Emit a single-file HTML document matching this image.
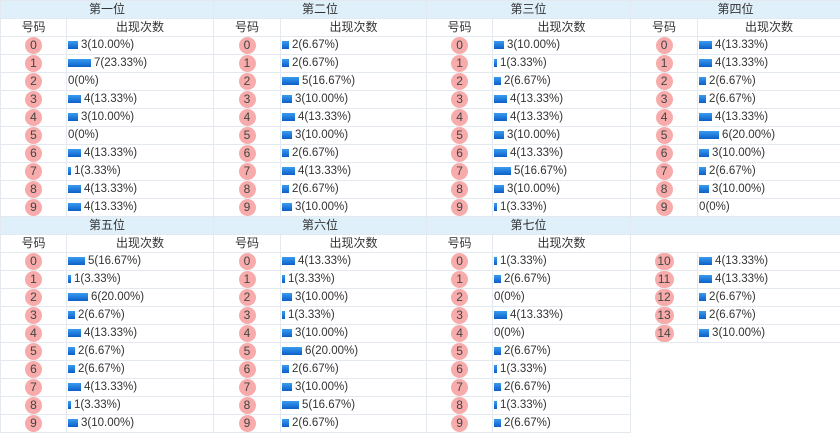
<!DOCTYPE html><html><head><meta charset="utf-8"><style>
body{margin:0;width:840px;height:445px;background:#fff;font-family:"Liberation Sans","Noto Sans CJK SC",sans-serif;font-size:12px;color:#333;overflow:hidden}
table{border-collapse:collapse;table-layout:fixed;width:840px}
td{height:17.9px;padding:0;border:1px solid #e3e9ef;box-sizing:border-box;white-space:nowrap;line-height:16px}
tr.h td{background:#dff0fb;text-align:center}
tr.s td{text-align:center}
td.n{text-align:center}
.c{display:inline-block;width:17px;height:17px;border-radius:9px;background:#f8abab;text-align:center;line-height:17px;font-size:12px;color:#444}
.c2{width:19px}
td.v{padding-left:1px;font-size:11.5px}
.b{display:inline-block;height:8px;background:linear-gradient(#3a9bf0,#0b5fc8);margin-right:3px;vertical-align:-1px}
</style></head><body>
<table>
<colgroup><col style="width:66px"><col style="width:147px"><col style="width:67px"><col style="width:146px"><col style="width:66px"><col style="width:138px"><col style="width:67px"><col style="width:143px"></colgroup>
<tr class="h"><td colspan="2">第一位</td><td colspan="2">第二位</td><td colspan="2">第三位</td><td colspan="2">第四位</td></tr>
<tr class="s"><td>号码</td><td>出现次数</td><td>号码</td><td>出现次数</td><td>号码</td><td>出现次数</td><td>号码</td><td>出现次数</td></tr>
<tr><td class="n"><span class="c">0</span></td><td class="v"><span class="b" style="width:10px"></span>3(10.00%)</td><td class="n"><span class="c">0</span></td><td class="v"><span class="b" style="width:7px"></span>2(6.67%)</td><td class="n"><span class="c">0</span></td><td class="v"><span class="b" style="width:10px"></span>3(10.00%)</td><td class="n"><span class="c">0</span></td><td class="v"><span class="b" style="width:13px"></span>4(13.33%)</td></tr>
<tr><td class="n"><span class="c">1</span></td><td class="v"><span class="b" style="width:23px"></span>7(23.33%)</td><td class="n"><span class="c">1</span></td><td class="v"><span class="b" style="width:7px"></span>2(6.67%)</td><td class="n"><span class="c">1</span></td><td class="v"><span class="b" style="width:3px"></span>1(3.33%)</td><td class="n"><span class="c">1</span></td><td class="v"><span class="b" style="width:13px"></span>4(13.33%)</td></tr>
<tr><td class="n"><span class="c">2</span></td><td class="v">0(0%)</td><td class="n"><span class="c">2</span></td><td class="v"><span class="b" style="width:17px"></span>5(16.67%)</td><td class="n"><span class="c">2</span></td><td class="v"><span class="b" style="width:7px"></span>2(6.67%)</td><td class="n"><span class="c">2</span></td><td class="v"><span class="b" style="width:7px"></span>2(6.67%)</td></tr>
<tr><td class="n"><span class="c">3</span></td><td class="v"><span class="b" style="width:13px"></span>4(13.33%)</td><td class="n"><span class="c">3</span></td><td class="v"><span class="b" style="width:10px"></span>3(10.00%)</td><td class="n"><span class="c">3</span></td><td class="v"><span class="b" style="width:13px"></span>4(13.33%)</td><td class="n"><span class="c">3</span></td><td class="v"><span class="b" style="width:7px"></span>2(6.67%)</td></tr>
<tr><td class="n"><span class="c">4</span></td><td class="v"><span class="b" style="width:10px"></span>3(10.00%)</td><td class="n"><span class="c">4</span></td><td class="v"><span class="b" style="width:13px"></span>4(13.33%)</td><td class="n"><span class="c">4</span></td><td class="v"><span class="b" style="width:13px"></span>4(13.33%)</td><td class="n"><span class="c">4</span></td><td class="v"><span class="b" style="width:13px"></span>4(13.33%)</td></tr>
<tr><td class="n"><span class="c">5</span></td><td class="v">0(0%)</td><td class="n"><span class="c">5</span></td><td class="v"><span class="b" style="width:10px"></span>3(10.00%)</td><td class="n"><span class="c">5</span></td><td class="v"><span class="b" style="width:10px"></span>3(10.00%)</td><td class="n"><span class="c">5</span></td><td class="v"><span class="b" style="width:20px"></span>6(20.00%)</td></tr>
<tr><td class="n"><span class="c">6</span></td><td class="v"><span class="b" style="width:13px"></span>4(13.33%)</td><td class="n"><span class="c">6</span></td><td class="v"><span class="b" style="width:7px"></span>2(6.67%)</td><td class="n"><span class="c">6</span></td><td class="v"><span class="b" style="width:13px"></span>4(13.33%)</td><td class="n"><span class="c">6</span></td><td class="v"><span class="b" style="width:10px"></span>3(10.00%)</td></tr>
<tr><td class="n"><span class="c">7</span></td><td class="v"><span class="b" style="width:3px"></span>1(3.33%)</td><td class="n"><span class="c">7</span></td><td class="v"><span class="b" style="width:13px"></span>4(13.33%)</td><td class="n"><span class="c">7</span></td><td class="v"><span class="b" style="width:17px"></span>5(16.67%)</td><td class="n"><span class="c">7</span></td><td class="v"><span class="b" style="width:7px"></span>2(6.67%)</td></tr>
<tr><td class="n"><span class="c">8</span></td><td class="v"><span class="b" style="width:13px"></span>4(13.33%)</td><td class="n"><span class="c">8</span></td><td class="v"><span class="b" style="width:7px"></span>2(6.67%)</td><td class="n"><span class="c">8</span></td><td class="v"><span class="b" style="width:10px"></span>3(10.00%)</td><td class="n"><span class="c">8</span></td><td class="v"><span class="b" style="width:10px"></span>3(10.00%)</td></tr>
<tr><td class="n"><span class="c">9</span></td><td class="v"><span class="b" style="width:13px"></span>4(13.33%)</td><td class="n"><span class="c">9</span></td><td class="v"><span class="b" style="width:10px"></span>3(10.00%)</td><td class="n"><span class="c">9</span></td><td class="v"><span class="b" style="width:3px"></span>1(3.33%)</td><td class="n"><span class="c">9</span></td><td class="v">0(0%)</td></tr>
<tr class="h"><td colspan="2">第五位</td><td colspan="2">第六位</td><td colspan="2">第七位</td><td colspan="2"></td></tr>
<tr class="s"><td>号码</td><td>出现次数</td><td>号码</td><td>出现次数</td><td>号码</td><td>出现次数</td><td style="border-right:none"></td><td style="border-left:none"></td></tr>
<tr><td class="n"><span class="c">0</span></td><td class="v"><span class="b" style="width:17px"></span>5(16.67%)</td><td class="n"><span class="c">0</span></td><td class="v"><span class="b" style="width:13px"></span>4(13.33%)</td><td class="n"><span class="c">0</span></td><td class="v"><span class="b" style="width:3px"></span>1(3.33%)</td><td class="n"><span class="c c2">10</span></td><td class="v"><span class="b" style="width:13px"></span>4(13.33%)</td></tr>
<tr><td class="n"><span class="c">1</span></td><td class="v"><span class="b" style="width:3px"></span>1(3.33%)</td><td class="n"><span class="c">1</span></td><td class="v"><span class="b" style="width:3px"></span>1(3.33%)</td><td class="n"><span class="c">1</span></td><td class="v"><span class="b" style="width:7px"></span>2(6.67%)</td><td class="n"><span class="c c2">11</span></td><td class="v"><span class="b" style="width:13px"></span>4(13.33%)</td></tr>
<tr><td class="n"><span class="c">2</span></td><td class="v"><span class="b" style="width:20px"></span>6(20.00%)</td><td class="n"><span class="c">2</span></td><td class="v"><span class="b" style="width:10px"></span>3(10.00%)</td><td class="n"><span class="c">2</span></td><td class="v">0(0%)</td><td class="n"><span class="c c2">12</span></td><td class="v"><span class="b" style="width:7px"></span>2(6.67%)</td></tr>
<tr><td class="n"><span class="c">3</span></td><td class="v"><span class="b" style="width:7px"></span>2(6.67%)</td><td class="n"><span class="c">3</span></td><td class="v"><span class="b" style="width:3px"></span>1(3.33%)</td><td class="n"><span class="c">3</span></td><td class="v"><span class="b" style="width:13px"></span>4(13.33%)</td><td class="n"><span class="c c2">13</span></td><td class="v"><span class="b" style="width:7px"></span>2(6.67%)</td></tr>
<tr><td class="n"><span class="c">4</span></td><td class="v"><span class="b" style="width:13px"></span>4(13.33%)</td><td class="n"><span class="c">4</span></td><td class="v"><span class="b" style="width:10px"></span>3(10.00%)</td><td class="n"><span class="c">4</span></td><td class="v">0(0%)</td><td class="n"><span class="c c2">14</span></td><td class="v"><span class="b" style="width:10px"></span>3(10.00%)</td></tr>
<tr><td class="n"><span class="c">5</span></td><td class="v"><span class="b" style="width:7px"></span>2(6.67%)</td><td class="n"><span class="c">5</span></td><td class="v"><span class="b" style="width:20px"></span>6(20.00%)</td><td class="n"><span class="c">5</span></td><td class="v"><span class="b" style="width:7px"></span>2(6.67%)</td><td style="border:none"></td><td style="border:none"></td></tr>
<tr><td class="n"><span class="c">6</span></td><td class="v"><span class="b" style="width:7px"></span>2(6.67%)</td><td class="n"><span class="c">6</span></td><td class="v"><span class="b" style="width:7px"></span>2(6.67%)</td><td class="n"><span class="c">6</span></td><td class="v"><span class="b" style="width:3px"></span>1(3.33%)</td><td style="border:none"></td><td style="border:none"></td></tr>
<tr><td class="n"><span class="c">7</span></td><td class="v"><span class="b" style="width:13px"></span>4(13.33%)</td><td class="n"><span class="c">7</span></td><td class="v"><span class="b" style="width:10px"></span>3(10.00%)</td><td class="n"><span class="c">7</span></td><td class="v"><span class="b" style="width:7px"></span>2(6.67%)</td><td style="border:none"></td><td style="border:none"></td></tr>
<tr><td class="n"><span class="c">8</span></td><td class="v"><span class="b" style="width:3px"></span>1(3.33%)</td><td class="n"><span class="c">8</span></td><td class="v"><span class="b" style="width:17px"></span>5(16.67%)</td><td class="n"><span class="c">8</span></td><td class="v"><span class="b" style="width:3px"></span>1(3.33%)</td><td style="border:none"></td><td style="border:none"></td></tr>
<tr><td class="n"><span class="c">9</span></td><td class="v"><span class="b" style="width:10px"></span>3(10.00%)</td><td class="n"><span class="c">9</span></td><td class="v"><span class="b" style="width:7px"></span>2(6.67%)</td><td class="n"><span class="c">9</span></td><td class="v"><span class="b" style="width:7px"></span>2(6.67%)</td><td style="border:none"></td><td style="border:none"></td></tr>
</table>
</body></html>
